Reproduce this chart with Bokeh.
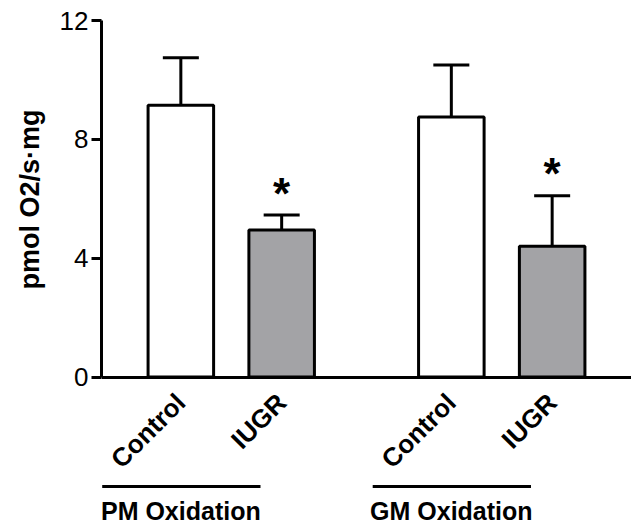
from math import pi
from bokeh.plotting import figure
from bokeh.models import (ColumnDataSource, FactorRange, Range1d, FixedTicker,
                          Whisker, TeeHead, CategoricalAxis, LinearAxis, Title)
from bokeh.core.properties import value
from bokeh.embed import file_html
from bokeh.resources import INLINE

# ---- data ----
groups = ["PM Oxidation", "GM Oxidation"]
conditions = ["Control", "IUGR"]
means = [9.15, 4.95, 8.75, 4.4]
errors = [1.6, 0.5, 1.75, 1.7]
significant = [False, True, False, True]
y_ticks = [0, 4, 8, 12]
y_label = "pmol O2/s\u00b7mg"

# ---- layout constants ----
FONT = "Liberation Sans"
Y_MIN, Y_MAX = -5.03, 12
UNDERLINE_Y = -3.68
GROUP_LABEL_Y = -4.5

factors = [(g, c) for g in groups for c in conditions]
fills = ["white" if c == "Control" else "#a3a3a6" for g in groups for c in conditions]
tops = [m + e for m, e in zip(means, errors)]

src = ColumnDataSource(dict(x=factors, mean=means, top=tops, fill=fills))

x_range = FactorRange(factors=factors, factor_padding=0.0, group_padding=0.683,
                      range_padding=0.287, range_padding_units="absolute")
y_range = Range1d(Y_MIN, Y_MAX)

p = figure(width=631, height=526, x_range=x_range, y_range=y_range,
           output_backend="svg", toolbar_location=None,
           x_axis_location=None, y_axis_location=None,
           min_border_left=100, min_border_right=0, min_border_top=20,
           min_border_bottom=0)
p.outline_line_color = None
p.xgrid.visible = False
p.ygrid.visible = False
p.background_fill_color = "white"
p.border_fill_color = "white"

# y axis
yaxis = LinearAxis(ticker=FixedTicker(ticks=y_ticks), bounds=(0, 12))
yaxis.axis_line_width = 3
yaxis.axis_line_color = "black"
yaxis.major_tick_line_width = 3
yaxis.major_tick_line_color = "black"
yaxis.major_tick_out = 10
yaxis.major_tick_in = 0
yaxis.minor_tick_line_color = None
yaxis.major_label_text_font = FONT
yaxis.major_label_text_font_size = "26px"
yaxis.major_label_text_color = "black"
yaxis.major_label_standoff = 3
p.add_layout(yaxis, "left")

# y axis title, placed along the 0..12 part of the axis
ytitle = Title(text=y_label, align="left", offset=237, standoff=24,
               text_font=FONT, text_font_size="27px", text_font_style="bold",
               text_color="black")
p.add_layout(ytitle, "left")

# x axis at y = 0
xaxis = CategoricalAxis(fixed_location=0)
xaxis.axis_line_width = 3
xaxis.axis_line_color = "black"
xaxis.major_tick_line_color = None
xaxis.major_tick_out = 0
xaxis.major_tick_in = 0
xaxis.minor_tick_line_color = None
xaxis.major_label_orientation = pi / 4
xaxis.major_label_text_font = FONT
xaxis.major_label_text_font_size = "26px"
xaxis.major_label_text_font_style = "bold"
xaxis.major_label_text_color = "black"
xaxis.major_label_standoff = 21
xaxis.group_text_color = None
xaxis.separator_line_color = None
p.add_layout(xaxis, "below")

# bars
p.vbar(x="x", top="mean", bottom=0, width=0.65, source=src,
       fill_color="fill", line_color="black", line_width=3)

# error bars (upper only)
whisk = Whisker(base="x", lower="mean", upper="top", source=src,
                line_color="black", line_width=3,
                upper_head=TeeHead(size=36, line_width=3, line_color="black"),
                lower_head=None, level="glyph")
p.add_layout(whisk)

# significance asterisks
star_x = [f for f, s in zip(factors, significant) if s]
star_y = [t for t, s in zip(tops, significant) if s]
p.text(x=star_x, y=star_y, text=["*"] * len(star_x), text_align="center",
       text_baseline="middle", y_offset=-22,
       text_font=value(FONT), text_font_size="44px", text_font_style="bold",
       text_color="black")

# group underlines and labels
p.segment(x0=[(g, "Control", -0.78) for g in groups], y0=[UNDERLINE_Y] * len(groups),
          x1=[(g, "IUGR", -0.21) for g in groups], y1=[UNDERLINE_Y] * len(groups),
          line_color="black", line_width=3)
p.text(x=[(g, "Control") for g in groups], y=[GROUP_LABEL_Y] * len(groups), text=groups,
       text_align="center", text_baseline="middle",
       text_font=value(FONT), text_font_size="25px", text_font_style="bold",
       text_color="black")

open("out.html", "w").write(file_html(p, INLINE))
